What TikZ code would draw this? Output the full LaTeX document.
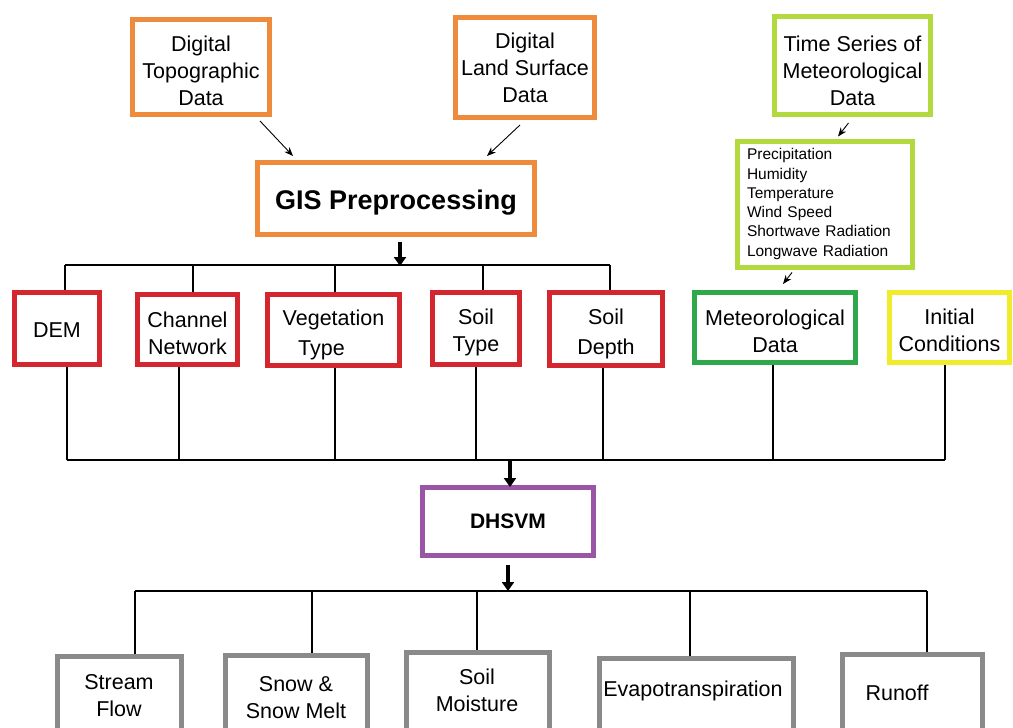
\documentclass[tikz,border=0pt]{standalone}
\usepackage{fontspec}
\setmainfont{Liberation Sans}
\usetikzlibrary{arrows.meta}
\definecolor{cOrange}{HTML}{EE8B3C}
\definecolor{cLime}{HTML}{B2DA3E}
\definecolor{cGreen}{HTML}{2FA84C}
\definecolor{cYellow}{HTML}{F0EC2C}
\definecolor{cRed}{HTML}{D3262E}
\definecolor{cPurple}{HTML}{9B55A6}
\definecolor{cGrey}{HTML}{8A8A8A}
\begin{document}
\begin{tikzpicture}[x=1pt,y=-1pt,
  box/.style={draw=#1, line width=5pt, fill=white, inner sep=0pt, align=center,
    font=\fontsize{21.5}{27}\selectfont},
  lbl/.style={inner sep=0pt, align=center, font=\fontsize{21.5}{27}\selectfont},
  conn/.style={draw=black, line width=1.1pt},
  bigarrow/.style={draw=black, line width=3.5pt, -{Triangle[width=12pt,length=9pt]}},
  smallarrow/.style={draw=black, line width=0.9pt, -{Stealth[length=9pt,width=7pt]}}]
\useasboundingbox[fill=white] (0,0) rectangle (1013,728);

% top row
\node[box=cOrange, minimum width=137, minimum height=95,
  label={[lbl,yshift=-4pt]center:{Digital\\Topographic\\Data}}] (topo) at (201,67) {};
\node[box=cOrange, minimum width=139, minimum height=100] (land) at (525,67.5) {Digital\\Land Surface\\Data};
\node[box=cOrange, minimum width=277, minimum height=72,
  label={[lbl,yshift=-4pt,font=\fontsize{27}{32}\selectfont\bfseries]center:GIS Preprocessing}] (gis) at (396,198.5) {};
\node[box=cLime, minimum width=156, minimum height=98,
  label={[lbl,yshift=-5pt]center:{Time Series of\\Meteorological\\Data}}] (ts) at (852.5,65.5) {};
\node[box=cLime, minimum width=175, minimum height=126, text width=156, align=left,
  font=\fontsize{15.5}{19.3}\selectfont] (params) at (825,204)
  {Precipitation\\Humidity\\Temperature\\Wind Speed\\Shortwave Radiation\\Longwave Radiation};

% input row
\node[box=cRed, minimum width=85, minimum height=72,
  label={[lbl,yshift=-2pt]center:DEM}] (dem) at (57,328.5) {};
\node[box=cRed, minimum width=100, minimum height=70,
  label={[lbl,yshift=-4pt]center:{Channel\\Network}}] (chan) at (187.5,329.5) {};
\node[box=cRed, minimum width=132, minimum height=71,
  label={[lbl,yshift=-5pt]center:{Vegetation\\[3pt]\hspace*{-24pt}Type}}] (veg) at (333.5,330) {};
\node[box=cRed, minimum width=87, minimum height=72,
  label={[lbl,yshift=-4pt]center:{Soil\\Type}}] (stype) at (476,328.5) {};
\node[box=cRed, minimum width=113, minimum height=73,
  label={[lbl,yshift=-5pt]center:{Soil\\[3pt]Depth}}] (sdepth) at (606,329) {};
\node[box=cGreen, minimum width=161, minimum height=70,
  label={[lbl,yshift=-3.5pt]center:{Meteorological\\Data}}] (met) at (775,327.5) {};
\node[box=cYellow, minimum width=120, minimum height=70,
  label={[lbl,yshift=-3pt]center:{Initial\\Conditions}}] (init) at (949.5,327.5) {};

% model
\node[box=cPurple, minimum width=171, minimum height=68, font=\fontsize{21}{25}\selectfont\bfseries] (dhsvm) at (508,521.5) {DHSVM};

% outputs (cut by the lower edge)
\node[box=cGrey, minimum width=124, minimum height=101] (sflow) at (119.5,707) {};
\node[box=cGrey, minimum width=142, minimum height=101] (snow) at (296.5,706) {};
\node[box=cGrey, minimum width=143, minimum height=105] (smoist) at (478,705) {};
\node[box=cGrey, minimum width=194, minimum height=100] (evap) at (696.5,708) {};
\node[box=cGrey, minimum width=140, minimum height=103] (runoff) at (912.5,706) {};
\node[lbl] (tsflow) at (119,696) {Stream\\Flow};
\node[lbl] (tsnow) at (296,698) {Snow \&\\Snow Melt};
\node[lbl] (tsmoist) at (477,690) {Soil\\Moisture};
\node[lbl] (tevap) at (693,691) {Evapotranspiration};
\node[lbl] (trunoff) at (897,693) {Runoff};

% small arrows
\draw[smallarrow] ([shift={(-12,4)}]topo.south east) -- ([shift={(38,-4)}]gis.north west);
\draw[smallarrow] ([shift={(-5,5)}]land.south) -- ([shift={(-50,-4)}]gis.north east);
\draw[smallarrow] ([shift={(-4,6)}]ts.south) -- ([shift={(13,-2)}]params.north);
\draw[smallarrow] ([shift={(-33,3)}]params.south) -- ([shift={(8,-6)}]met.north);

% GIS bus
\coordinate (gisout) at (400,242);
\coordinate (t0) at (400,266);
\coordinate (t1) at (65,265);
\coordinate (t2) at (193,265);
\coordinate (t3) at (335,265);
\coordinate (t4) at (483,265);
\coordinate (t5) at (610,265);
\draw[conn] (t1) -- (t5);
\draw[bigarrow] (gisout) -- (t0);
\draw[conn] (t1) -- (t1 |- dem.north);
\draw[conn] (t2) -- (t2 |- chan.north);
\draw[conn] (t3) -- (t3 |- veg.north);
\draw[conn] (t4) -- (t4 |- stype.north);
\draw[conn] (t5) -- (t5 |- sdepth.north);

% input bus
\coordinate (b1) at (67,460);
\coordinate (b2) at (179,460);
\coordinate (b3) at (335,460);
\coordinate (b4) at (476,460);
\coordinate (b5) at (603,460);
\coordinate (b6) at (773,460);
\coordinate (b7) at (945,460);
\coordinate (b0) at (510,461);
\draw[conn] (b1) -- (b7);
\draw[conn] (b1 |- dem.south) -- (b1);
\draw[conn] (b2 |- chan.south) -- (b2);
\draw[conn] (b3 |- veg.south) -- (b3);
\draw[conn] (b4 |- stype.south) -- (b4);
\draw[conn] (b5 |- sdepth.south) -- (b5);
\draw[conn] (b6 |- met.south) -- (b6);
\draw[conn] (b7 |- init.south) -- (b7);
\draw[bigarrow] (b0) -- ([yshift=-2]b0 |- dhsvm.north);

% output bus
\coordinate (o0) at (508,591);
\coordinate (dout) at (508,565);
\coordinate (o1) at (135,591);
\coordinate (o2) at (312,591);
\coordinate (o3) at (477,591);
\coordinate (o4) at (690,591);
\coordinate (o5) at (927,591);
\draw[bigarrow] (dout) -- (o0);
\draw[conn] (o1) -- (o5);
\draw[conn] (o1) -- (o1 |- sflow.north);
\draw[conn] (o2) -- (o2 |- snow.north);
\draw[conn] (o3) -- (o3 |- smoist.north);
\draw[conn] (o4) -- (o4 |- evap.north);
\draw[conn] (o5) -- (o5 |- runoff.north);
\end{tikzpicture}
\end{document}
